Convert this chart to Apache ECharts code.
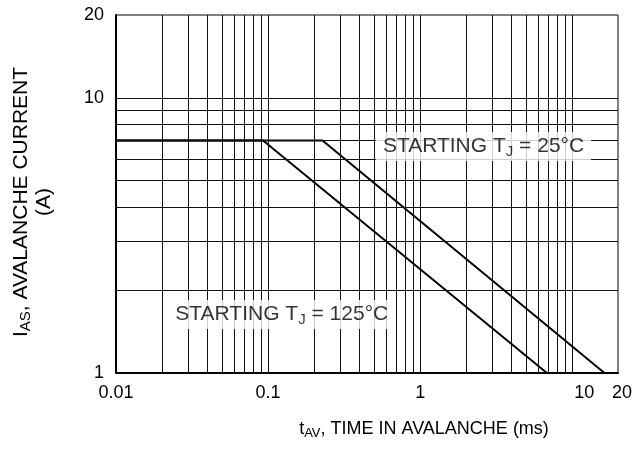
<!DOCTYPE html>
<html>
<head>
    <meta charset="utf-8">
    <title>Avalanche current</title>
    <script type="text/javascript" src="https://cdn.jsdelivr.net/npm/echarts@6/dist/echarts.min.js"></script>
    <style>
        html, body { margin: 0; padding: 0; background: #fff; }
    </style>
</head>
<body>
<div id="chart" style="width:635px;height:454px;"></div>

<script type="text/javascript">
    // data
    var line25 = [[0.01, 7], [0.228, 7], [16.3, 1]];
    var line125 = [[0.01, 7], [0.0927, 7], [6.82, 1]];
    // grid lines (1..9 per decade)
    var xGrid = [0.02, 0.03, 0.04, 0.05, 0.06, 0.07, 0.08, 0.09,
                 0.1, 0.2, 0.3, 0.4, 0.5, 0.6, 0.7, 0.8, 0.9,
                 1, 2, 3, 4, 5, 6, 7, 8, 9, 10];
    var yGrid = [2, 3, 4, 5, 6, 7, 8, 9, 10];
    // where the two notes sit
    var note25 = [2.61, 6.65];
    var note125 = [0.123, 1.63];

    var font = 'Liberation Sans, Arial, sans-serif';

    var gridMarks = [];
    for (var i = 0; i < xGrid.length; i++) gridMarks.push({xAxis: xGrid[i]});
    for (var j = 0; j < yGrid.length; j++) gridMarks.push({yAxis: yGrid[j]});

    var noteRich = {
        t: {fontFamily: font, fontSize: 21, color: '#000'},
        sub: {fontFamily: font, fontSize: 15, color: '#000', padding: [10, 0, 0, 0]}
    };

    function tickText(v) {
        var s = String(+v.toPrecision(3));
        // the 10 and 20 labels sit a little right of their lines in the original
        if (s === '10') return '{r10|10}';
        if (s === '20') return '{r20|20}';
        return s;
    }

    var myChart = echarts.init(document.getElementById('chart'), null, {renderer: 'canvas'});

    var option = {
        animation: false,
        backgroundColor: '#fff',
        grid: {
            left: 116, right: 16, top: 15, bottom: 81,
            show: true, borderColor: '#000', borderWidth: 1
        },
        xAxis: {
            type: 'log',
            logBase: 10,
            min: 0.01,
            max: 20,
            name: '{t|t}{sub|AV}{t|, TIME IN AVALANCHE (ms)}',
            nameLocation: 'middle',
            nameGap: 46,
            nameTextStyle: {
                padding: [0, 0, 0, 114],
                rich: {
                    t: {fontFamily: font, fontSize: 18, color: '#000'},
                    sub: {fontFamily: font, fontSize: 13, color: '#000', padding: [8, 0, 0, 0]}
                }
            },
            axisLine: {show: true, lineStyle: {color: '#000', width: 2}},
            axisTick: {show: false},
            splitLine: {show: false},
            axisLabel: {
                fontFamily: font, fontSize: 18, color: '#000', margin: 11,
                formatter: tickText,
                rich: {
                    r10: {fontFamily: font, fontSize: 18, color: '#000', padding: [0, 0, 0, 24]},
                    r20: {fontFamily: font, fontSize: 18, color: '#000', padding: [0, 0, 0, 8]}
                }
            }
        },
        yAxis: {
            type: 'log',
            logBase: 10,
            min: 1,
            max: 20,
            name: '{t|I}{sub|AS}{t|, AVALANCHE CURRENT}\n{t|(A)}',
            nameLocation: 'middle',
            nameRotate: 90,
            nameGap: 60,
            nameTextStyle: {
                padding: [0, 16, 0, 0],
                lineHeight: 23,
                rich: {
                    t: {fontFamily: font, fontSize: 21, color: '#000', lineHeight: 23},
                    sub: {fontFamily: font, fontSize: 15, color: '#000', lineHeight: 23, padding: [9, 0, 0, 0]}
                }
            },
            axisLine: {show: true, lineStyle: {color: '#000', width: 2}},
            axisTick: {show: false},
            splitLine: {show: false},
            axisLabel: {
                fontFamily: font, fontSize: 18, color: '#000', margin: 12,
                formatter: function (v) { return String(+v.toPrecision(3)); }
            }
        },
        series: [
            {
                name: 'grid',
                type: 'line',
                data: [],
                silent: true,
                markLine: {
                    silent: true,
                    symbol: 'none',
                    label: {show: false},
                    lineStyle: {color: '#111', width: 1, type: 'solid'},
                    data: gridMarks
                }
            },
            {
                name: '125C',
                type: 'line',
                data: line125,
                symbol: 'none',
                lineStyle: {color: '#000', width: 2}
            },
            {
                name: '25C',
                type: 'line',
                data: line25,
                symbol: 'none',
                lineStyle: {color: '#000', width: 2}
            },
            {
                name: 'notes',
                type: 'scatter',
                symbolSize: 0,
                silent: true,
                z: 10,
                data: [
                    {value: note25, label: {formatter: '{t|STARTING T}{sub|J}{t| = 25°C}'}},
                    {value: note125, label: {formatter: '{t|STARTING T}{sub|J}{t| = 125°C}'}}
                ],
                label: {
                    show: true,
                    position: 'inside',
                    backgroundColor: '#fff',
                    padding: [2, 7, 2, 7],
                    rich: noteRich
                }
            }
        ]
    };
    myChart.setOption(option);
</script>
</body>
</html>
